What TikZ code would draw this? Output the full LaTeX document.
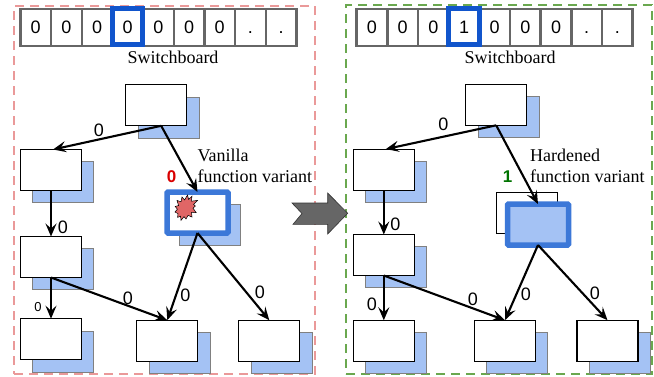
\documentclass[tikz,border=0pt]{standalone}
\usepackage{fontspec}
\setmainfont{Liberation Serif}
\setsansfont{Liberation Sans}
\usetikzlibrary{arrows.meta,calc}
\definecolor{shadowblue}{HTML}{A4C2F4}
\definecolor{selblue}{HTML}{3C78D8}
\definecolor{hiblue}{HTML}{1155CC}
\definecolor{framered}{HTML}{EA9999}
\definecolor{framegreen}{HTML}{6AA84F}
\definecolor{starred}{HTML}{E06666}
\tikzset{
  x=1pt,y=-1pt,
  box/.style={draw=black,fill=white,line width=1.2pt,minimum width=61pt,minimum height=41pt,inner sep=0pt,outer sep=0pt},
  shade box/.style={draw=black!50,fill=shadowblue,line width=0.8pt,minimum width=61pt,minimum height=41pt,inner sep=0pt,outer sep=0pt},
  selbox/.style={draw=selblue,line width=5.5pt,rounded corners=1pt,minimum width=61pt,minimum height=41pt,inner sep=0pt,outer sep=0pt},
  cell/.style={draw=black!60,fill=white,line width=2.4pt,minimum width=30.67pt,minimum height=37pt,inner sep=0pt,outer sep=0pt,text height=12.5pt,text depth=0pt,font=\sffamily\fontsize{18}{18}\selectfont},
  hilite/.style={draw=hiblue,line width=5pt,minimum width=30.5pt,minimum height=36pt,inner sep=0pt,outer sep=0pt},
  frameA/.style={draw=framered,dash pattern=on 9pt off 6pt,line width=2.4pt},
  frameB/.style={draw=framegreen,dash pattern=on 9pt off 6pt,line width=2.4pt},
  edgearrow/.style={draw=black,line width=2.1pt,-{Stealth[length=13pt,width=11pt,inset=5pt]}},
  digit/.style={font=\sffamily\fontsize{18}{18}\selectfont,inner sep=0pt},
  smalldigit/.style={font=\sffamily\fontsize{13}{13}\selectfont,inner sep=0pt},
  txt/.style={font=\fontsize{18}{18}\selectfont,inner sep=0pt},
  txtl/.style={font=\fontsize{18}{21}\selectfont,inner sep=0pt,align=left,anchor=west},
  flag/.style={font=\sffamily\bfseries\fontsize{17}{17}\selectfont,inner sep=0pt},
}
\begin{document}
\begin{tikzpicture}
\useasboundingbox (0,0) rectangle (654,376);
% frames
\node[frameA,minimum width=301pt,minimum height=368pt,inner sep=0pt,outer sep=0pt] (frameL) at (164.5,190) {};
\node[frameB,minimum width=306pt,minimum height=369pt,inner sep=0pt,outer sep=0pt] (frameR) at (499,189.5) {};
% switchboards
\foreach \i/\t in {0/0,1/0,2/0,3/0,4/0,5/0,6/0,7/.,8/.}{
  \node[cell] (l\i) at ({35.7+\i*30.67},27.5) {\t};
}
\foreach \i/\t in {0/0,1/0,2/0,3/1,4/0,5/0,6/0,7/.,8/.}{
  \node[cell] (r\i) at ({372+\i*30.67},27.5) {\t};
}
\node[hilite] (hl) at (127.5,26.5) {};
\node[hilite] (hr) at (464.2,26.5) {};
\node[txt] (swl) at (173,57) {Switchboard};
\node[txt] (swr) at (510,57) {Switchboard};
% left shadows
\foreach \n/\x/\y in {a/156.2/105.3,b/51/170,c/51/257,d/51/339.2,e/167.3/340.7,f/269.3/340.7,g/197.5/212.5}{
  \node[shade box] (\n s) at (\x+12.3,\y+12.3) {};
}
% left boxes
\node[box] (a) at (156.2,105.3) {};
\node[box] (b) at (51,170) {};
\node[box] (c) at (51,257) {};
\node[box] (d) at (51,339.2) {};
\node[box] (e) at (167.3,340.7) {};
\node[box] (f) at (269.3,340.7) {};
\node[selbox,fill=white] (g) at (197.5,212.5) {};
% star
\path[draw=black,line width=0.5pt,fill=starred]
 (187.5,195) -- (188.6,199.4) -- (192,196.2) -- (191.2,201.2) -- (197.5,200.4) -- (193.5,204.4) -- (195.4,206) -- (193,208.2) -- (196.2,212.6) -- (191.5,212.4) -- (192,217) -- (188,215.4) -- (186,219) -- (184,216.6) -- (181,220.4) -- (180.6,216.2) -- (177.6,217.4) -- (178,213.6) -- (175,212) -- (177.4,209.2) -- (175.2,206.4) -- (178.6,205.6) -- (177,200.4) -- (181,201.8) -- (182,197) -- (184.6,200) -- cycle;
% right shadows
\foreach \n/\x/\y in {h/496.2/104.8,i/383.8/169.6,j/383.8/255,k/383.8/340.8,m/505/340.7,n/607.5/340.7}{
  \node[shade box] (\n s) at (\x+12.3,\y+12.3) {};
}
\node[box] (h) at (496.2,104.8) {};
\node[box] (i) at (383.8,169.6) {};
\node[box] (j) at (383.8,255) {};
\node[box] (k) at (383.8,340.8) {};
\node[box] (m) at (505,340.7) {};
\node[box] (n) at (607.5,340.7) {};
\node[draw=black,fill=white,line width=0.8pt,minimum width=61pt,minimum height=41pt,inner sep=0pt,outer sep=0pt] (ob) at (526.8,212.4) {};
\node[selbox,fill=shadowblue,minimum height=41pt] (o) at (538,224.5) {};
% left edges
\draw[edgearrow] ([xshift=5pt]a.south) -- ([xshift=2pt]b.north);
\draw[edgearrow] ([xshift=5pt]a.south) -- (g.north);
\draw[edgearrow] (b.south) -- (c.north);
\draw[edgearrow] (c.south) -- (d.north);
\draw[edgearrow] (c.south) -- (e.north);
\draw[edgearrow] (g.south) -- (e.north);
\draw[edgearrow] (g.south) -- (f.north);
% right edges
\draw[edgearrow] (h.south) -- ([xshift=2pt]i.north);
\draw[edgearrow] (h.south) -- (o.north);
\draw[edgearrow] (i.south) -- (j.north);
\draw[edgearrow] (j.south) -- (k.north);
\draw[edgearrow] (j.south) -- (m.north);
\draw[edgearrow] (o.south) -- (m.north);
\draw[edgearrow] (o.south) -- (n.north);
% labels
\node[digit] (t1) at (99,130) {0};
\node[digit] (t2) at (63,227) {0};
\node[smalldigit] (t3) at (38,307) {0};
\node[digit] (t4) at (128,298) {0};
\node[digit] (t5) at (185.5,295) {0};
\node[digit] (t6) at (260,292.5) {0};
\node[digit] (t7) at (443.5,124) {0};
\node[digit] (t8) at (395.5,224) {0};
\node[digit] (t9) at (372,304) {0};
\node[digit] (t10) at (473,299) {0};
\node[digit] (t11) at (526,294.5) {0};
\node[digit] (t12) at (595,293) {0};
\node[flag,text=red!85!black] (z) at (171.5,177) {0};
\node[flag,text=green!45!black] (y) at (507.5,177) {1};
\node[txtl] (v) at (197.5,166) {Vanilla\\function variant};
\node[txtl] (w) at (530,166) {Hardened\\function variant};
% big arrow
\path[fill=black!60,draw=black!80,line width=0.6pt] (292,203) -- (327.7,203) -- (327.7,193) -- (347.7,213.3) -- (327.7,234) -- (327.7,224.3) -- (293,224.3) -- (302,213.5) -- cycle;
\end{tikzpicture}
\end{document}
